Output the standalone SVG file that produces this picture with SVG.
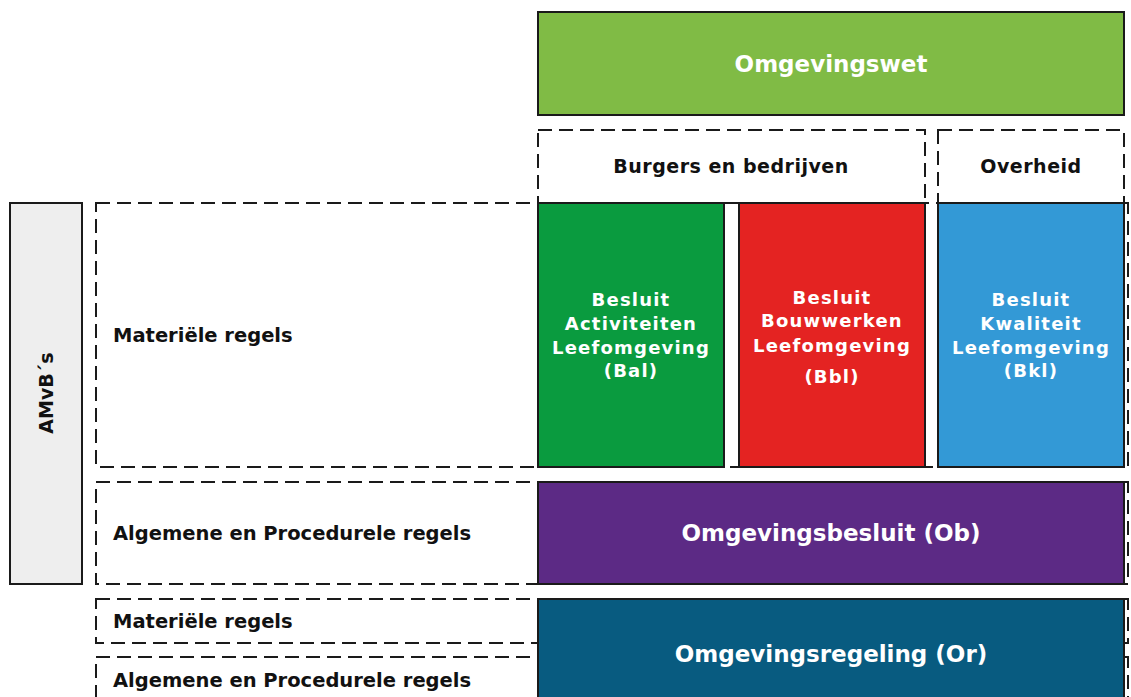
<svg xmlns="http://www.w3.org/2000/svg" width="1131" height="697" viewBox="0 0 1131 697">
<style>
.solid{stroke:#1a1a1a;stroke-width:2}
.dash{fill:none;stroke:#1a1a1a;stroke-width:2;stroke-dasharray:14,7}
.wt{fill:#ffffff;font-family:"DejaVu Sans","Noto Sans",sans-serif;font-weight:700;text-anchor:middle}
.bt{fill:#111111;font-family:"DejaVu Sans","Noto Sans",sans-serif;font-weight:700}
.bl{font-size:18px;letter-spacing:1.2px}
.big{font-size:23px}
.lab{font-size:19.5px}
</style>
<rect width="1131" height="697" fill="#ffffff"/>
<g id="dashed-areas">
<rect class="dash" x="538" y="130" width="387" height="73"/>
<rect class="dash" x="938" y="130" width="186" height="73"/>
<rect class="dash" x="96" y="203" width="1032" height="264"/>
<rect class="dash" x="96" y="482" width="1032" height="102"/>
<rect class="dash" x="96" y="599" width="1032" height="44"/>
<rect class="dash" x="96" y="657" width="1032" height="60"/>
</g>
<g id="omgevingswet">
<rect class="solid" x="538" y="12" width="586" height="103" fill="#80bb45"/>
<text class="wt big" x="831" y="72">Omgevingswet</text>
</g>
<g id="burgers">
<text class="bt" x="731" y="173" font-size="19" text-anchor="middle" letter-spacing="0.5">Burgers en bedrijven</text>
</g>
<g id="overheid">
<text class="bt" x="1031" y="173" font-size="19" text-anchor="middle" letter-spacing="0.5">Overheid</text>
</g>
<g id="amvb">
<rect class="solid" x="10" y="203" width="72" height="381" fill="#eeeeee"/>
<text class="bt" x="0" y="0" font-size="19" text-anchor="middle" transform="translate(53,393) rotate(-90)">AMvB´s</text>
</g>
<g id="materiele1">
<text class="bt lab" x="113" y="342">Materiële regels</text>
</g>
<g id="algemene1">
<text class="bt lab" x="113" y="540">Algemene en Procedurele regels</text>
</g>
<g id="materiele2">
<text class="bt lab" x="113" y="628">Materiële regels</text>
</g>
<g id="algemene2">
<text class="bt lab" x="113" y="687">Algemene en Procedurele regels</text>
</g>
<g id="bal">
<rect class="solid" x="538" y="203" width="186" height="264" fill="#0a9b3f"/>
<text class="wt bl" x="631" y="306">Besluit</text>
<text class="wt bl" x="631" y="330">Activiteiten</text>
<text class="wt bl" x="631" y="354">Leefomgeving</text>
<text class="wt bl" x="631" y="377">(Bal)</text>
</g>
<g id="bbl">
<rect class="solid" x="739" y="203" width="186" height="264" fill="#e42322"/>
<text class="wt bl" x="832" y="304">Besluit</text>
<text class="wt bl" x="832" y="327">Bouwwerken</text>
<text class="wt bl" x="832" y="352">Leefomgeving</text>
<text class="wt bl" x="832" y="383">(Bbl)</text>
</g>
<g id="bkl">
<rect class="solid" x="938" y="203" width="186" height="264" fill="#3399d6"/>
<text class="wt bl" x="1031" y="306">Besluit</text>
<text class="wt bl" x="1031" y="330">Kwaliteit</text>
<text class="wt bl" x="1031" y="354">Leefomgeving</text>
<text class="wt bl" x="1031" y="377">(Bkl)</text>
</g>
<g id="ob">
<rect class="solid" x="538" y="482" width="586" height="102" fill="#5c2a85"/>
<text class="wt big" x="831" y="541">Omgevingsbesluit (Ob)</text>
</g>
<g id="or">
<rect class="solid" x="538" y="599" width="586" height="110" fill="#085b80"/>
<text class="wt big" x="831" y="662">Omgevingsregeling (Or)</text>
</g>
<g id="connectors"></g>
</svg>
